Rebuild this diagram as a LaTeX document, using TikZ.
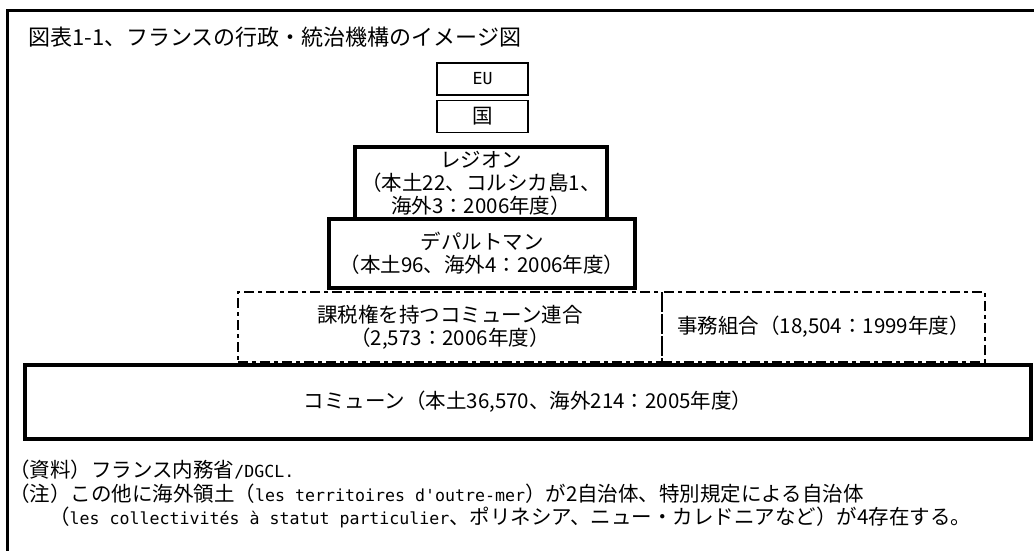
\documentclass[tikz,border=0pt]{standalone}
\usepackage{fontspec}
\setmainfont{Noto Sans CJK JP}
\newfontfamily\latmono{DejaVu Sans Mono}
\newcommand\lm[1]{{\latmono\fontsize{16.6}{23}\selectfont #1}}
\newcommand\jpsize{\fontsize{20.5}{23}\selectfont}
\newcommand\titlesize{\fontsize{22}{24}\selectfont}
\tikzset{
  thinbox/.style={draw, line width=1.2pt, minimum width=91pt, minimum height=32pt, inner sep=0pt},
  thickbox/.style={draw, line width=4pt, fill=white, align=center, inner sep=0pt},
  dashbox/.style={draw, line width=2.5pt, dash pattern=on 10pt off 4pt on 4pt off 4pt, align=center, inner sep=0pt},
  txt/.style={inner sep=0pt, anchor=west},
}
\begin{document}
\begin{tikzpicture}[x=1pt,y=-1pt, every node/.style={font=\jpsize, text=black}]
\useasboundingbox (0,0) rectangle (1034,550);
\clip (0,0) rectangle (1034,550);
% outer frame
\draw[line width=3pt] (7,600) -- (7,10.5) -- (1100,10.5);
% title
\node[txt, font=\titlesize] (title) at (28,37) {図表1-1、フランスの行政・統治機構のイメージ図};
% EU and state
\node[thinbox] (eu) at (482.5,79) {\lm{EU}};
\node[thinbox] (kuni) at (482.5,116.5) {国};
% region
\node[thickbox, minimum width=252pt, minimum height=72pt] (region) at (481,183)
  {レジオン\\（本土22、コルシカ島1、\\海外3：2006年度）};
% departement
\node[thickbox, minimum width=306pt, minimum height=69pt] (dept) at (482,253.5)
  {デパルトマン\\（本土96、海外4：2006年度）};
% intercommunal
\node[dashbox, minimum width=424pt, minimum height=70pt] (epci) at (450,327)
  {課税権を持つコミューン連合\\（2,573：2006年度）};
\node[dashbox, minimum width=323pt, minimum height=70pt] (syndicat) at (823.5,327)
  {事務組合（18,504：1999年度）};
% commune
\node[thickbox, minimum width=1006pt, minimum height=74pt] (commune) at (528,402)
  {コミューン（本土36,570、海外214：2005年度）};
% notes
\node[txt] (src) at (9,470) {（資料）フランス内務省\lm{/DGCL.}};
\node[txt] (note1) at (9,494) {（注）この他に海外領土（\lm{les territoires d'outre-mer}）が2自治体、特別規定による自治体};
\node[txt] (note2) at (49,517) {（\lm{les collectivités à statut particulier}、ポリネシア、ニュー・カレドニアなど）が4存在する。};
\end{tikzpicture}
\end{document}
